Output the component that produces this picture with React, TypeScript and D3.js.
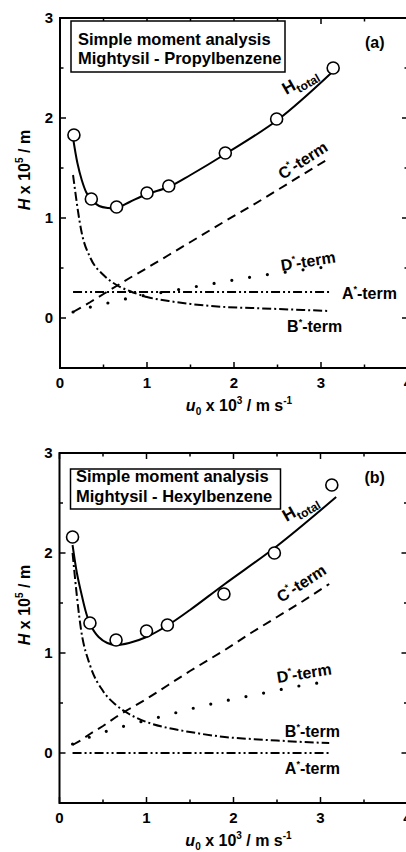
import React from "react";
import * as d3 from "d3";

const termU = [0.15, 0.25, 0.35, 0.5, 0.65, 0.8, 1.0, 1.25, 1.5, 1.9, 2.2, 2.5, 2.8, 3.1];

// (a) Mightysil - Propylbenzene
const propExpU = [0.16, 0.36, 0.65, 1.0, 1.25, 1.9, 2.49, 3.14];
const propExpH = [1.83, 1.19, 1.11, 1.25, 1.32, 1.65, 1.99, 2.5];
const propTotalU = [0.15, 0.2, 0.25, 0.3, 0.35, 0.45, 0.55, 0.65, 0.8, 1.0, 1.25, 1.5, 1.9, 2.5, 3.13];
const propTotalH = [1.8, 1.55, 1.38, 1.26, 1.19, 1.12, 1.1, 1.1, 1.16, 1.24, 1.31, 1.43, 1.64, 1.98, 2.46];
const propA = [0.26, 0.26, 0.26, 0.26, 0.26, 0.26, 0.26, 0.26, 0.26, 0.26, 0.26, 0.26, 0.26, 0.26];
const propB = [1.43, 0.85, 0.6, 0.43, 0.33, 0.27, 0.21, 0.17, 0.14, 0.11, 0.1, 0.09, 0.08, 0.07];
const propC = [0.06, 0.11, 0.16, 0.24, 0.32, 0.4, 0.5, 0.63, 0.76, 0.97, 1.12, 1.28, 1.44, 1.6];
const propDU = [0.15, 0.35, 0.55, 0.75, 1.0, 1.4, 1.8, 2.2, 2.6, 3.05];
const propD = [0.06, 0.11, 0.15, 0.19, 0.23, 0.29, 0.35, 0.41, 0.46, 0.51];

// (b) Mightysil - Hexylbenzene
const hexExpU = [0.15, 0.35, 0.65, 1.0, 1.24, 1.89, 2.47, 3.13];
const hexExpH = [2.16, 1.3, 1.13, 1.22, 1.28, 1.59, 2.0, 2.68];
const hexTotalU = [0.15, 0.2, 0.25, 0.3, 0.35, 0.45, 0.55, 0.65, 0.8, 1.0, 1.25, 1.5, 1.9, 2.5, 3.18];
const hexTotalH = [2.08, 1.8, 1.6, 1.42, 1.29, 1.16, 1.1, 1.08, 1.1, 1.16, 1.28, 1.43, 1.69, 2.07, 2.56];
const hexA = [0, 0, 0, 0, 0, 0, 0, 0, 0, 0, 0, 0, 0, 0];
const hexB = [2.0, 1.22, 0.88, 0.62, 0.48, 0.39, 0.31, 0.25, 0.21, 0.16, 0.14, 0.125, 0.11, 0.1];
const hexC = [0.08, 0.13, 0.19, 0.27, 0.36, 0.44, 0.54, 0.68, 0.82, 1.03, 1.2, 1.36, 1.52, 1.69];
const hexDU = [0.15, 0.35, 0.55, 0.75, 1.15, 1.55, 1.95, 2.35, 2.75, 3.05];
const hexD = [0.09, 0.16, 0.22, 0.27, 0.36, 0.45, 0.53, 0.6, 0.67, 0.71];

const xTicks = [0, 1, 2, 3, 4];
const yTicks = [0, 1, 2, 3];

const FONT = "'Liberation Sans', Arial, sans-serif";
const W = 87 * 4;
const H = 350;

const zip = (xs, ys) => xs.map((x, i) => [x, ys[i]]);

const Term = ({ x, y, rot = 0, letter }) => (
  <text x={x} y={y} transform={`rotate(${rot},${x},${y})`} fontSize={16} fontWeight="bold">
    {letter}
    <tspan dy={-7} fontSize={9}>*</tspan>
    <tspan dy={7}>-term</tspan>
  </text>
);

function Panel({ left, top, title, tag, exp, total, A, B, C, D, lab }) {
  const x = d3.scaleLinear().domain([0, 4]).range([left, left + W]);
  const y = d3.scaleLinear().domain([-0.5, 3]).range([top + H, top]);
  const smooth = d3.line().x(d => x(d[0])).y(d => y(d[1])).curve(d3.curveCatmullRom.alpha(0.5));
  const mono = d3.line().x(d => x(d[0])).y(d => y(d[1])).curve(d3.curveMonotoneX);
  const straight = d3.line().x(d => x(d[0])).y(d => y(d[1]));

  const xMinor = d3.range(0.5, 4, 1);
  const yMinor = d3.range(-0.5, 3, 1);
  const at = (u, h) => [x(u), y(h)];

  const [hx, hy] = at(lab.H[0], lab.H[1]);
  const [cx, cy] = at(lab.C[0], lab.C[1]);
  const [dx, dy] = at(lab.D[0], lab.D[1]);
  const [ax, ay] = at(lab.A[0], lab.A[1]);
  const [bx, by] = at(lab.B[0], lab.B[1]);

  return (
    <g fontFamily={FONT} fill="#000">
      {/* curves */}
      <path d={straight(zip(termU, A))} fill="none" stroke="#000" strokeWidth={2} strokeDasharray="9,3,2,3,2,3" />
      <path d={mono(zip(termU, B))} fill="none" stroke="#000" strokeWidth={2} strokeDasharray="9,3,2,3" />
      <path d={straight(zip(termU, C))} fill="none" stroke="#000" strokeWidth={2} strokeDasharray="9,6" />
      <path d={mono(zip(D[0], D[1]))} fill="none" stroke="#000" strokeWidth={3.2} strokeLinecap="round" strokeDasharray="0,18" />
      <path d={smooth(zip(total[0], total[1]))} fill="none" stroke="#000" strokeWidth={2} />
      {exp[0].map((u, i) => (
        <circle key={i} cx={x(u)} cy={y(exp[1][i])} r={6} fill="#fff" stroke="#000" strokeWidth={1.6} />
      ))}

      {/* frame and ticks */}
      <rect x={x(0)} y={y(3)} width={W} height={H} fill="none" stroke="#000" strokeWidth={2} />
      {xTicks.map(t => (
        <g key={"x" + t}>
          <line x1={x(t)} x2={x(t)} y1={y(-0.5)} y2={y(-0.5) - 6} stroke="#000" strokeWidth={1.5} />
          <line x1={x(t)} x2={x(t)} y1={y(3)} y2={y(3) + 6} stroke="#000" strokeWidth={1.5} />
          <text x={x(t)} y={y(-0.5) + 20} textAnchor="middle" fontSize={15} fontWeight="bold">{t}</text>
        </g>
      ))}
      {xMinor.map(t => (
        <g key={"xm" + t}>
          <line x1={x(t)} x2={x(t)} y1={y(-0.5)} y2={y(-0.5) - 3.5} stroke="#000" strokeWidth={1.5} />
          <line x1={x(t)} x2={x(t)} y1={y(3)} y2={y(3) + 3.5} stroke="#000" strokeWidth={1.5} />
        </g>
      ))}
      {yTicks.map(t => (
        <g key={"y" + t}>
          <line x1={x(0)} x2={x(0) + 6} y1={y(t)} y2={y(t)} stroke="#000" strokeWidth={1.5} />
          <line x1={x(4)} x2={x(4) - 6} y1={y(t)} y2={y(t)} stroke="#000" strokeWidth={1.5} />
          <text x={x(0) - 7} y={y(t) + 5} textAnchor="end" fontSize={15} fontWeight="bold">{t}</text>
        </g>
      ))}
      {yMinor.map(t => (
        <g key={"ym" + t}>
          <line x1={x(0)} x2={x(0) + 3.5} y1={y(t)} y2={y(t)} stroke="#000" strokeWidth={1.5} />
          <line x1={x(4)} x2={x(4) - 3.5} y1={y(t)} y2={y(t)} stroke="#000" strokeWidth={1.5} />
        </g>
      ))}

      {/* axis titles */}
      <text transform={`translate(${left - 30},${top + 152}) rotate(-90)`} textAnchor="middle" fontSize={16} fontWeight="bold">
        <tspan fontStyle="italic">H</tspan> x 10<tspan dy={-7} fontSize={10}>5</tspan><tspan dy={7}> / m</tspan>
      </text>
      <text x={left + 179} y={top + H + 43} textAnchor="middle" fontSize={16} fontWeight="bold">
        <tspan fontStyle="italic">u</tspan><tspan dy={4} fontSize={10}>0</tspan>
        <tspan dy={-4}> x 10</tspan><tspan dy={-7} fontSize={10}>3</tspan>
        <tspan dy={7}> / m s</tspan><tspan dy={-7} fontSize={10}>-1</tspan>
      </text>

      {/* info box */}
      <rect x={left + 11} y={top + lab.boxY} width={lab.boxW} height={lab.boxH} fill="#fff" stroke="#000" strokeWidth={1.5} />
      <text x={left + lab.textX} y={top + lab.line1} fontSize={16.5} fontWeight="bold">Simple moment analysis</text>
      <text x={left + lab.textX} y={top + lab.line1 + lab.gap} fontSize={16.5} fontWeight="bold">{title}</text>
      <text x={left + 305} y={top + lab.tagY} fontSize={16} fontWeight="bold">{tag}</text>

      {/* curve labels */}
      <text x={hx} y={hy} transform={`rotate(-30,${hx},${hy})`} fontSize={17} fontWeight="bold">
        H<tspan dy={5} fontSize={12}>total</tspan>
      </text>
      <Term x={cx} y={cy} rot={-33} letter="C" />
      <Term x={dx} y={dy} rot={-9} letter="D" />
      <Term x={ax} y={ay} letter="A" />
      <Term x={bx} y={by} letter="B" />
    </g>
  );
}

export default function App() {
  return (
    <svg width={406} height={852} style={{ position: "absolute", left: 0, top: 0, background: "#fff" }}>
      <Panel
        left={60}
        top={18}
        title="Mightysil - Propylbenzene"
        tag="(a)"
        exp={[propExpU, propExpH]}
        total={[propTotalU, propTotalH]}
        A={propA}
        B={propB}
        C={propC}
        D={[propDU, propD]}
        lab={{
          H: [2.6, 2.23], C: [2.56, 1.38], D: [2.55, 0.47], A: [3.24, 0.19], B: [2.61, -0.14],
          boxY: 3, boxW: 214, boxH: 51, textX: 18, line1: 27, gap: 19, tagY: 30,
        }}
      />
      <Panel
        left={59.5}
        top={453}
        title="Mightysil - Hexylbenzene"
        tag="(b)"
        exp={[hexExpU, hexExpH]}
        total={[hexTotalU, hexTotalH]}
        A={hexA}
        B={hexB}
        C={hexC}
        D={[hexDU, hexD]}
        lab={{
          H: [2.61, 2.31], C: [2.55, 1.5], D: [2.51, 0.7], A: [2.59, -0.21], B: [2.59, 0.16],
          boxY: 16, boxW: 210, boxH: 40, textX: 16.5, line1: 29, gap: 19.5, tagY: 30,
        }}
      />
    </svg>
  );
}
